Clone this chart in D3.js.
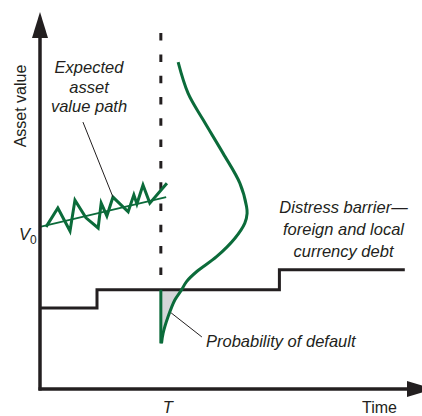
<!DOCTYPE html>
<html lang="en">
<head>
<meta charset="UTF-8">
<title>Distress barrier and probability of default</title>
<script src="https://d3js.org/d3.v7.min.js"></script>
<style>
    body { margin: 0; background: #fff; }
    text { font-family: "Liberation Sans", Arial, sans-serif; fill: #231f20; }
    .note { font-style: italic; font-size: 16.5px; }
</style>
</head>
<body>
<svg width="422" height="416"></svg>
<script>
// chart data (abstract units: time 0-100, asset value 0-100)
var horizonT = 31.8;
var startValue = 43;
var trendEnd = [33.2, 50.9];
var pathTime  = [1.6, 4.7, 7.9, 9.2, 12.1, 15.3, 16.1, 17.6, 19.2, 23.2, 24.7, 25.5, 27.1, 28.9, 33.4];
var pathValue = [43.0, 48.0, 41.9, 50.1, 45.4, 42.7, 49.3, 45.9, 50.9, 47.0, 51.5, 49.1, 54.1, 49.3, 54.6];
var barrierTime  = [0, 15, 63, 96];
var barrierLevel = [21.5, 26.3, 31.6, 31.6];
// distribution of asset value at T: value level and density (drawn sideways)
var distValue   = [86.7, 78.4, 71.4, 62.5, 54.6, 48.4, 46.6, 44.0, 40.0, 35.1, 31.1, 28.5, 26.3, 23.6, 19.2, 14.8, 12.1];
var distDensity = [4.55, 7.18, 11.13, 16.39, 20.79, 22.55, 22.7, 22.1, 19.5, 14.66, 9.39, 6.76, 5.45, 3.68, 1.92, 0.6, 0.18];

var svg = d3.select("svg");
var x = d3.scaleLinear().domain([0, 100]).range([40, 420]);
var y = d3.scaleLinear().domain([0, 100]).range([389, 12]);

var ink = "#231f20", green = "#0b6b3a";

// default area (below barrier at T)
var tLevel = barrierLevel[1];
var tail = distValue.map((v, i) => ({v: v, d: distDensity[i]})).filter(p => p.v <= tLevel + 0.01);
svg.append("path")
    .datum(tail)
    .attr("fill", "#d4d6d8")
    .attr("d", d3.area()
        .y(p => y(p.v))
        .x0(x(horizonT))
        .x1(p => x(horizonT + p.d))
        .curve(d3.curveCatmullRom));

// dashed horizon line
svg.append("line")
    .attr("x1", x(horizonT)).attr("x2", x(horizonT))
    .attr("y1", y(94.4)).attr("y2", y(tLevel + 2))
    .attr("stroke", ink).attr("stroke-width", 3)
    .attr("stroke-dasharray", "7.5,13.8");

// barrier
svg.append("path")
    .datum(barrierTime.map((t, i) => [t, barrierLevel[i]]))
    .attr("fill", "none").attr("stroke", ink).attr("stroke-width", 3)
    .attr("d", d3.line().x(d => x(d[0])).y(d => y(d[1])).curve(d3.curveStepAfter));

// expected trend
svg.append("line")
    .attr("x1", x(0)).attr("y1", y(startValue))
    .attr("x2", x(trendEnd[0])).attr("y2", y(trendEnd[1]))
    .attr("stroke", green).attr("stroke-width", 1.8);

// simulated asset path
svg.append("path")
    .datum(pathTime.map((t, i) => [t, pathValue[i]]))
    .attr("fill", "none").attr("stroke", green).attr("stroke-width", 3)
    .attr("stroke-linejoin", "miter")
    .attr("d", d3.line().x(d => x(d[0])).y(d => y(d[1])));

// distribution curve
svg.append("path")
    .datum(distValue.map((v, i) => [horizonT + distDensity[i], v]))
    .attr("fill", "none").attr("stroke", green).attr("stroke-width", 3)
    .attr("d", d3.line().x(d => x(d[0])).y(d => y(d[1])).curve(d3.curveCatmullRom));
svg.append("line")
    .attr("x1", x(horizonT)).attr("x2", x(horizonT))
    .attr("y1", y(distValue[distValue.length - 1])).attr("y2", y(tLevel))
    .attr("stroke", green).attr("stroke-width", 3);

// leaders
svg.append("line")
    .attr("x1", x(11.3)).attr("y1", y(70.8)).attr("x2", x(19.2)).attr("y2", y(50.9))
    .attr("stroke", ink).attr("stroke-width", 1);
svg.append("line")
    .attr("x1", x(34.5)).attr("y1", y(20.2)).attr("x2", x(42.6)).attr("y2", y(13.8))
    .attr("stroke", ink).attr("stroke-width", 1);

// axes
svg.append("line").attr("x1", x(0)).attr("x2", x(0)).attr("y1", y(0) + 1.5).attr("y2", 36)
    .attr("stroke", ink).attr("stroke-width", 3.5);
svg.append("line").attr("x1", x(0) - 1.5).attr("x2", 408).attr("y1", y(0)).attr("y2", y(0))
    .attr("stroke", ink).attr("stroke-width", 3.5);
svg.append("path").attr("fill", ink)
    .attr("d", "M" + x(0) + ",12 L" + (x(0) + 8) + ",38 L" + (x(0) - 8) + ",38 Z");
svg.append("path").attr("fill", ink)
    .attr("d", "M433," + y(0) + " L407," + (y(0) - 8) + " L407," + (y(0) + 8) + " Z");

// labels
svg.append("text").attr("transform", "translate(26,106) rotate(-90)")
    .attr("text-anchor", "middle").style("font-size", "16px").text("Asset value");
svg.append("text").attr("x", 379.5).attr("y", 413).attr("text-anchor", "middle")
    .style("font-size", "16px").text("Time");
svg.append("text").attr("class", "note").attr("x", x(horizonT) + 7).attr("y", 413)
    .attr("text-anchor", "middle").text("T");
var v0 = svg.append("text").attr("class", "note").attr("x", 19).attr("y", 240);
v0.append("tspan").text("V");
v0.append("tspan").attr("dy", 4).style("font-size", "12px").style("font-style", "normal").text("0");

function block(lines, cx, by, dy) {
    var t = svg.append("text").attr("class", "note").attr("text-anchor", "middle");
    lines.forEach((s, i) => t.append("tspan").attr("x", cx).attr("y", by + i * dy).text(s));
}
block(["Expected", "asset", "value path"], 89, 73, 19.5);
block(["Distress barrier\u2014", "foreign and local", "currency debt"], 343.5, 213, 22);
svg.append("text").attr("class", "note").attr("x", 206).attr("y", 347).text("Probability of default");
</script>
</body>
</html>
